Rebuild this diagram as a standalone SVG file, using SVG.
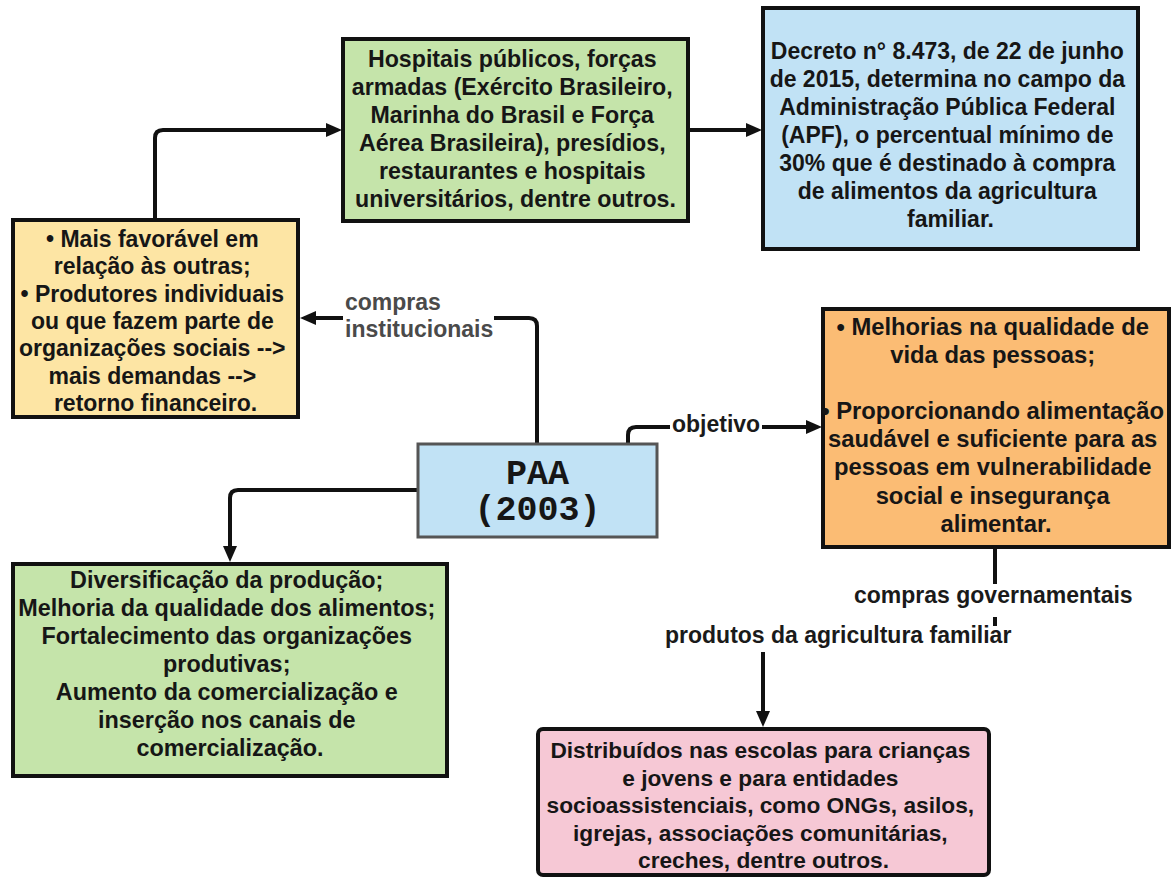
<svg xmlns="http://www.w3.org/2000/svg" width="1172" height="878" viewBox="0 0 1172 878">
<style>
.box{stroke:#111;stroke-width:4}
.t{font-family:"Liberation Sans",Arial,sans-serif;font-weight:bold;fill:#161616;text-anchor:middle}
.lbl{font-family:"Liberation Sans",Arial,sans-serif;font-weight:bold;font-size:23px;fill:#1a1a1a}
.gray{fill:#4a4a4a}
.conn{fill:none;stroke:#111;stroke-width:4;stroke-linejoin:round}
.mono{font-family:"Liberation Mono","DejaVu Sans Mono",monospace;font-weight:bold;font-size:35px;fill:#161616;text-anchor:middle}
</style>
<defs>
<marker id="ah" markerUnits="userSpaceOnUse" markerWidth="16" markerHeight="14" refX="6" refY="7" orient="auto">
<path d="M0,0 L16,7 L0,14 z" fill="#111"/>
</marker>
</defs>
<rect width="1172" height="878" fill="#ffffff"/>

<g id="connectors">
<path class="conn" d="M155,219 V138 Q155,130 163,130 H332" marker-end="url(#ah)"/>
<path class="conn" d="M689,130 H752" marker-end="url(#ah)"/>
<path class="conn" d="M537,443 V326 Q537,318 529,318 H494"/>
<path class="conn" d="M343,318 H310" marker-end="url(#ah)"/>
<path class="conn" d="M628,443 V435 Q628,427 636,427 H670"/>
<path class="conn" d="M762,427 H812" marker-end="url(#ah)"/>
<path class="conn" d="M417,490 H238 Q230,490 230,498 V552" marker-end="url(#ah)"/>
<path class="conn" d="M995,548 V584"/>
<path class="conn" d="M995,617 V626"/>
<path class="conn" d="M763,652 V717" marker-end="url(#ah)"/>
<text class="lbl gray" x="345" y="310">compras</text>
<text class="lbl gray" x="345" y="337">institucionais</text>
<text class="lbl" x="672" y="432">objetivo</text>
<text class="lbl" x="854" y="603">compras governamentais</text>
<text class="lbl" x="665" y="643">produtos da agricultura familiar</text>
</g>

<g id="node-hospitais">
<rect class="box" x="343" y="39" width="345" height="182" fill="#c5e4aa"/>
<text class="t" font-size="23.2">
<tspan x="515.5" y="67">Hospitais públicos, forças</tspan>
<tspan x="515.5" y="95">armadas (Exército Brasileiro,</tspan>
<tspan x="515.5" y="123">Marinha do Brasil e Força</tspan>
<tspan x="515.5" y="151">Aérea Brasileira), presídios,</tspan>
<tspan x="515.5" y="179">restaurantes e hospitais</tspan>
<tspan x="515.5" y="207">universitários, dentre outros.</tspan>
</text>
</g>

<g id="node-decreto">
<rect class="box" x="763" y="8" width="375" height="241" fill="#c1e2f5"/>
<text class="t" font-size="23">
<tspan x="950.5" y="59">Decreto n° 8.473, de 22 de junho</tspan>
<tspan x="950.5" y="87">de 2015, determina no campo da</tspan>
<tspan x="950.5" y="115">Administração Pública Federal</tspan>
<tspan x="950.5" y="143">(APF), o percentual mínimo de</tspan>
<tspan x="950.5" y="171">30% que é destinado à compra</tspan>
<tspan x="950.5" y="199">de alimentos da agricultura</tspan>
<tspan x="950.5" y="227">familiar.</tspan>
</text>
</g>

<g id="node-favoravel">
<rect class="box" x="13" y="220" width="285" height="197" fill="#fde5a4"/>
<text class="t" font-size="23">
<tspan x="155.5" y="247">• Mais favorável em</tspan>
<tspan x="155.5" y="274">relação às outras;</tspan>
<tspan x="155.5" y="302">• Produtores individuais</tspan>
<tspan x="155.5" y="329">ou que fazem parte de</tspan>
<tspan x="155.5" y="356">organizações sociais --&gt;</tspan>
<tspan x="155.5" y="384">mais demandas --&gt;</tspan>
<tspan x="155.5" y="411">retorno financeiro.</tspan>
</text>
</g>

<g id="node-paa">
<rect x="418" y="444" width="239" height="93" fill="#c1e2f5" stroke="#555" stroke-width="3"/>
<text class="mono"><tspan x="537.5" y="484">PAA</tspan><tspan x="537.5" y="520">(2003)</tspan></text>
</g>

<g id="node-objetivo">
<rect class="box" x="823" y="309" width="346" height="238" fill="#fbbc74"/>
<text class="t" font-size="23.8">
<tspan x="996" y="335">• Melhorias na qualidade de</tspan>
<tspan x="996" y="363">vida das pessoas;</tspan>
<tspan x="996" y="419">• Proporcionando alimentação</tspan>
<tspan x="996" y="447">saudável e suficiente para as</tspan>
<tspan x="996" y="475">pessoas em vulnerabilidade</tspan>
<tspan x="996" y="504">social e insegurança</tspan>
<tspan x="996" y="532">alimentar.</tspan>
</text>
</g>

<g id="node-diversificacao">
<rect class="box" x="13" y="564" width="434" height="212" fill="#c5e4aa"/>
<text class="t" font-size="23.4">
<tspan x="230" y="588">Diversificação da produção;</tspan>
<tspan x="230" y="616">Melhoria da qualidade dos alimentos;</tspan>
<tspan x="230" y="644">Fortalecimento das organizações</tspan>
<tspan x="230" y="672">produtivas;</tspan>
<tspan x="230" y="700">Aumento da comercialização e</tspan>
<tspan x="230" y="728">inserção nos canais de</tspan>
<tspan x="230" y="756">comercialização.</tspan>
</text>
</g>

<g id="node-distribuidos">
<rect class="box" x="538" y="729" width="451" height="146" rx="5" fill="#f6c8d5"/>
<text class="t" font-size="22.7">
<tspan x="763.5" y="758">Distribuídos nas escolas para crianças</tspan>
<tspan x="763.5" y="786">e jovens e para entidades</tspan>
<tspan x="763.5" y="813">socioassistenciais, como ONGs, asilos,</tspan>
<tspan x="763.5" y="841">igrejas, associações comunitárias,</tspan>
<tspan x="763.5" y="868">creches, dentre outros.</tspan>
</text>
</g>
</svg>
